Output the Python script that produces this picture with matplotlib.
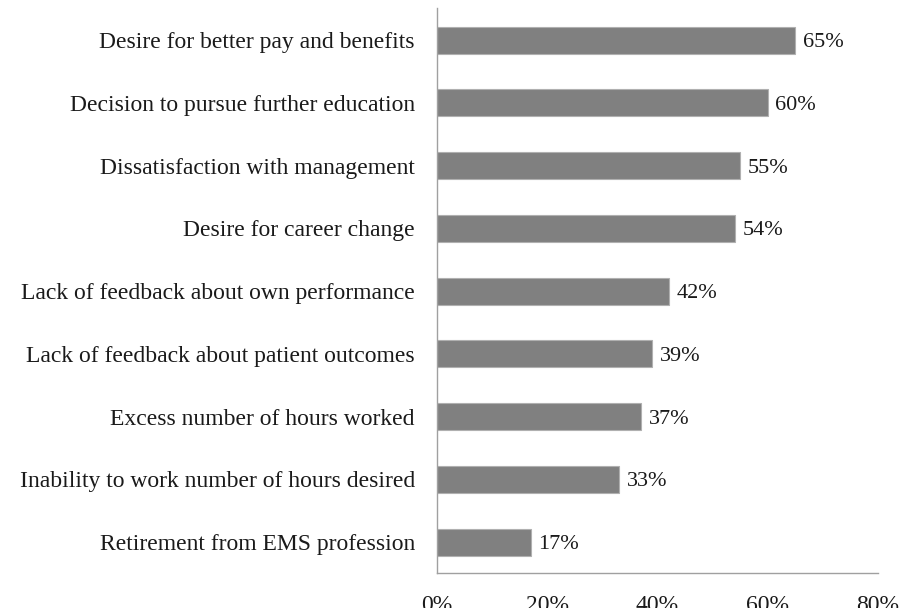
import matplotlib
matplotlib.use("Agg")
import matplotlib.pyplot as plt
from matplotlib.ticker import FuncFormatter

reasons = [
    "Desire for better pay and benefits",
    "Decision to pursue further education",
    "Dissatisfaction with management",
    "Desire for career change",
    "Lack of feedback about own performance",
    "Lack of feedback about patient outcomes",
    "Excess number of hours worked",
    "Inability to work number of hours desired",
    "Retirement from EMS profession",
]
percent = [65, 60, 55, 54, 42, 39, 37, 33, 17]
x_ticks = [0, 20, 40, 60, 80]

plt.rcParams["font.family"] = ["Liberation Serif", "DejaVu Serif"]

fig = plt.figure(figsize=(9.02, 6.08), dpi=100)
ax = fig.add_axes([0.4845, 0.0576, 0.4889, 0.9292])

ypos = list(range(len(reasons)))[::-1]
bars = ax.barh(ypos, percent, height=0.43, color="#808080",
               edgecolor="#b0b0b0", linewidth=0.8)

for y, v in zip(ypos, percent):
    ax.text(v + 1.4, y, f"{v}%", va="center_baseline", ha="left",
            fontsize=16, color="#1a1a1a")

ax.set_yticks(ypos)
ax.set_yticklabels(reasons, fontsize=17, color="#1a1a1a")
ax.set_xticks(x_ticks)
ax.xaxis.set_major_formatter(FuncFormatter(lambda v, p: f"{int(v)}%"))
ax.tick_params(axis="x", labelsize=17, length=0, pad=16, colors="#1a1a1a")
ax.tick_params(axis="y", length=0, pad=16)
ax.set_xlim(0, 80)
ax.set_ylim(-0.49, 8.51)

for side in ("top", "right"):
    ax.spines[side].set_visible(False)
for side in ("left", "bottom"):
    ax.spines[side].set_color("#a0a0a0")
    ax.spines[side].set_linewidth(1.0)

fig.savefig("out.png", dpi=100)
